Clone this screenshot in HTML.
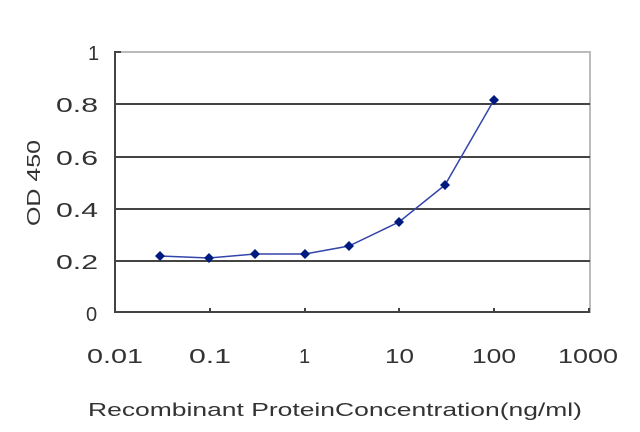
<!DOCTYPE html><html><head><style>body{margin:0;background:#fff}</style></head><body>
<svg width="640" height="427" xmlns="http://www.w3.org/2000/svg" font-family="Liberation Sans, sans-serif">
<rect x="115" y="52" width="475" height="260" fill="none" stroke="#bbb" stroke-width="2"/>
<g stroke="#444" stroke-width="2">
<line x1="115" y1="104" x2="590" y2="104"/><line x1="115" y1="157" x2="590" y2="157"/>
<line x1="115" y1="209" x2="590" y2="209"/><line x1="115" y1="261" x2="590" y2="261"/>
<line x1="115" y1="51" x2="115" y2="313"/><line x1="114" y1="312" x2="590" y2="312"/>
<line x1="115" y1="52" x2="121" y2="52"/>
<line x1="210" y1="312" x2="210" y2="308"/><line x1="305" y1="312" x2="305" y2="308"/><line x1="399" y1="312" x2="399" y2="308"/><line x1="494" y1="312" x2="494" y2="308"/><line x1="589" y1="312" x2="589" y2="308"/>
</g>
<g font-size="20" fill="#333">
<text x="88" y="60">1</text>
<text x="56" y="112" textLength="42" lengthAdjust="spacingAndGlyphs">0.8</text><text x="56" y="165" textLength="42" lengthAdjust="spacingAndGlyphs">0.6</text><text x="56" y="217" textLength="42" lengthAdjust="spacingAndGlyphs">0.4</text><text x="56" y="269" textLength="42" lengthAdjust="spacingAndGlyphs">0.2</text>
<text x="86" y="321">0</text>
</g>
<g font-size="20" fill="#333">
<text x="87" y="363" textLength="56" lengthAdjust="spacingAndGlyphs">0.01</text><text x="189" y="363" textLength="42" lengthAdjust="spacingAndGlyphs">0.1</text><text x="299" y="363">1</text><text x="385" y="363" textLength="29" lengthAdjust="spacingAndGlyphs">10</text><text x="472" y="363" textLength="44" lengthAdjust="spacingAndGlyphs">100</text><text x="558" y="363" textLength="60" lengthAdjust="spacingAndGlyphs">1000</text>
</g>
<text x="88" y="416" font-size="18" fill="#333" textLength="494" lengthAdjust="spacingAndGlyphs">Recombinant ProteinConcentration(ng/ml)</text>
<text transform="translate(40,226) rotate(-90)" font-size="18" fill="#333" textLength="86" lengthAdjust="spacingAndGlyphs">OD 450</text>
<polyline points="160,256 209,258 255,254 305,254 349,246 399,222 445,185 494,100" fill="none" stroke="#3344aa" stroke-width="1.5"/>
<g fill="#001a80">
<path d="M160,251 l5,5 -5,5 -5,-5z"/><path d="M209,253 l5,5 -5,5 -5,-5z"/><path d="M255,249 l5,5 -5,5 -5,-5z"/><path d="M305,249 l5,5 -5,5 -5,-5z"/><path d="M349,241 l5,5 -5,5 -5,-5z"/><path d="M399,217 l5,5 -5,5 -5,-5z"/><path d="M445,180 l5,5 -5,5 -5,-5z"/><path d="M494,95 l5,5 -5,5 -5,-5z"/>
</g>
</svg></body></html>
